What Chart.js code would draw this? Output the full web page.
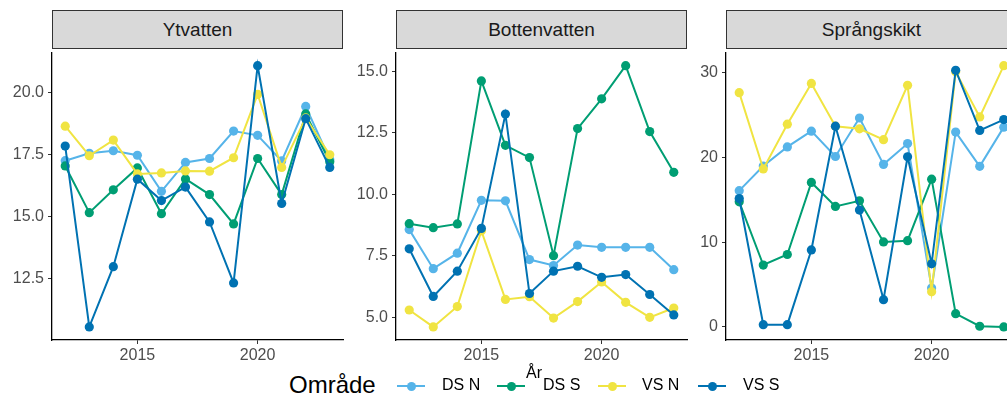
<!DOCTYPE html>
<html>
<head>
<meta charset="utf-8">
<script src="https://cdn.jsdelivr.net/npm/chart.js@4.4.1/dist/chart.umd.min.js"></script>
<style>
body { margin:0; width:1007px; height:403px; overflow:hidden; background:#fff; position:relative; font-family:"Liberation Sans", Arial, sans-serif; }
.strip { position:absolute; top:10px; height:39px; background:#D9D9D9; border:1px solid #333; box-sizing:border-box; text-align:center; font-size:19px; line-height:37px; color:#1A1A1A; }
canvas { position:absolute; }
.lg { position:absolute; white-space:nowrap; color:#000; }
</style>
</head>
<body>
<div id="strips"></div>
<canvas id="c0"></canvas>
<canvas id="c1"></canvas>
<canvas id="c2"></canvas>
<div id="legend"></div>
<script>
// data
var years = [2012, 2013, 2014, 2015, 2016, 2017, 2018, 2019, 2020, 2021, 2022, 2023];
var serier = ['DS N', 'DS S', 'VS N', 'VS S'];
var paneler = ['Ytvatten', 'Bottenvatten', 'Språngskikt'];

var ytDSN = [17.25, 17.55, 17.65, 17.47, 16.02, 17.18, 17.34, 18.44, 18.27, 17.24, 19.43, 17.3];
var ytDSS = [17.04, 15.16, 16.08, 16.96, 15.12, 16.52, 15.89, 14.71, 17.34, 15.89, 19.13, 17.21];
var ytVSN = [18.64, 17.45, 18.08, 16.72, 16.76, 16.84, 16.83, 17.37, 19.92, 16.98, 18.97, 17.49];
var ytVSS = [17.84, 10.57, 12.99, 16.51, 15.65, 16.19, 14.79, 12.34, 21.07, 15.53, 18.94, 16.98];

var btDSN = [8.56, 6.97, 7.60, 9.75, 9.73, 7.34, 7.10, 7.93, 7.84, 7.84, 7.84, 6.93];
var btDSS = [8.80, 8.64, 8.79, 14.61, 11.99, 11.49, 7.50, 12.67, 13.88, 15.23, 12.55, 10.89];
var btVSN = [5.29, 4.60, 5.43, 8.51, 5.72, 5.83, 4.96, 5.63, 6.43, 5.60, 4.99, 5.37];
var btVSS = [7.78, 5.84, 6.87, 8.61, 13.26, 5.96, 6.87, 7.07, 6.62, 6.73, 5.92, 5.09];

var spDSN = [16.07, 18.98, 21.23, 23.09, 20.10, 24.64, 19.17, 21.62, 4.58, 22.98, 18.94, 23.56];
var spDSS = [14.75, 7.30, 8.54, 17.04, 14.21, 14.87, 10.02, 10.17, 17.43, 1.56, 0.08, 0.0];
var spVSN = [27.63, 18.63, 23.91, 28.72, 23.67, 23.36, 22.08, 28.49, 4.16, 30.08, 24.76, 30.81];
var spVSS = [15.14, 0.27, 0.27, 9.08, 23.67, 13.78, 3.22, 20.07, 7.45, 30.27, 23.17, 24.45];

var ytTicks = [12.5, 15.0, 17.5, 20.0];
var btTicks = [5.0, 7.5, 10.0, 12.5, 15.0];
var spTicks = [0, 10, 20, 30];
var xTicks = [2015, 2020];

var panelData = [
    [ytDSN, ytDSS, ytVSN, ytVSS],
    [btDSN, btDSS, btVSN, btVSS],
    [spDSN, spDSS, spVSN, spVSS]
];
var panelTicks = [ytTicks, btTicks, spTicks];
var decimaler = [1, 1, 0];

var farger = ['#56B4E9', '#009E73', '#F0E442', '#0072B2'];

// layout
var plotLeft = [52, 396, 726];
var plotW = 291;
var plotTop = 49;
var plotH = 291;
var yAxW = 50;
var xAxH = 30;
var padTop = 10;
var padRight = 10;

// strips
var strips = document.getElementById('strips');
for (var p = 0; p < paneler.length; p++) {
    var s = document.createElement('div');
    s.className = 'strip';
    s.style.left = plotLeft[p] + 'px';
    s.style.width = plotW + 'px';
    s.textContent = paneler[p];
    strips.appendChild(s);
}

function expand(arrs) {
    var all = [].concat.apply([], arrs);
    var mn = Math.min.apply(null, all);
    var mx = Math.max.apply(null, all);
    var d = (mx - mn) * 0.05;
    return [mn - d, mx + d];
}

var xr = [years[0] - (years[years.length - 1] - years[0]) * 0.05, years[years.length - 1] + (years[years.length - 1] - years[0]) * 0.05];

function ritaPanel(p) {
    var canvas = document.getElementById('c' + p);
    var w = yAxW + plotW + padRight;
    var h = padTop + plotH + xAxH;
    canvas.width = w;
    canvas.height = h;
    canvas.style.left = (plotLeft[p] - yAxW) + 'px';
    canvas.style.top = (plotTop - padTop) + 'px';
    canvas.style.width = w + 'px';
    canvas.style.height = h + 'px';

    var yr = expand(panelData[p]);
    var ticks = panelTicks[p];
    var dec = decimaler[p];

    var datasets = [];
    for (var i = 0; i < serier.length; i++) {
        datasets.push({
            label: serier[i],
            data: years.map(function (y, k) { return { x: y, y: panelData[p][i][k] }; }),
            borderColor: farger[i],
            backgroundColor: farger[i],
            pointBackgroundColor: farger[i],
            pointBorderWidth: 0,
            pointRadius: 4.6,
            borderWidth: 2,
            tension: 0,
            order: serier.length - i
        });
    }

    new Chart(canvas, {
        type: 'line',
        data: { datasets: datasets },
        options: {
            responsive: false,
            animation: false,
            events: [],
            layout: { padding: { top: padTop, right: padRight, left: 0, bottom: 0 } },
            plugins: { legend: { display: false }, tooltip: { enabled: false } },
            scales: {
                x: {
                    type: 'linear',
                    min: xr[0],
                    max: xr[1],
                    afterBuildTicks: function (sc) { sc.ticks = xTicks.map(function (v) { return { value: v }; }); },
                    afterFit: function (sc) { sc.height = xAxH; },
                    grid: { drawOnChartArea: false, drawTicks: true, tickLength: 4, color: '#333333' },
                    border: { display: true, color: '#000000', width: 1.3 },
                    ticks: {
                        color: '#4D4D4D',
                        font: { family: 'Liberation Sans', size: 16 },
                        padding: 2,
                        maxRotation: 0,
                        callback: function (v) { return String(v); }
                    }
                },
                y: {
                    type: 'linear',
                    min: yr[0],
                    max: yr[1],
                    afterBuildTicks: function (sc) { sc.ticks = ticks.map(function (v) { return { value: v }; }); },
                    afterFit: function (sc) { sc.width = yAxW; },
                    grid: { drawOnChartArea: false, drawTicks: true, tickLength: 4, color: '#333333' },
                    border: { display: true, color: '#000000', width: 1.3 },
                    ticks: {
                        color: '#4D4D4D',
                        font: { family: 'Liberation Sans', size: 16 },
                        padding: 4,
                        callback: function (v) { return v.toFixed(dec); }
                    }
                }
            }
        }
    });
}

for (var p = 0; p < paneler.length; p++) {
    ritaPanel(p);
}

// x-axis title and legend
var legend = document.getElementById('legend');
function lgText(txt, left, top, size) {
    var d = document.createElement('div');
    d.className = 'lg';
    d.style.left = left + 'px';
    d.style.top = top + 'px';
    d.style.fontSize = size + 'px';
    d.textContent = txt;
    legend.appendChild(d);
}
lgText('Område', 289, 371, 24);
lgText('År', 526, 364, 16);

var keyLeft = [397, 497, 598, 698];
var textLeft = [442, 543, 642, 743];
var keyY = 386;
for (var i = 0; i < serier.length; i++) {
    var line = document.createElement('div');
    line.style.position = 'absolute';
    line.style.left = keyLeft[i] + 'px';
    line.style.top = (keyY - 1) + 'px';
    line.style.width = '28px';
    line.style.height = '2px';
    line.style.background = farger[i];
    legend.appendChild(line);
    var dot = document.createElement('div');
    dot.style.position = 'absolute';
    dot.style.left = (keyLeft[i] + 14 - 4.5) + 'px';
    dot.style.top = (keyY - 4.5) + 'px';
    dot.style.width = '9px';
    dot.style.height = '9px';
    dot.style.borderRadius = '50%';
    dot.style.background = farger[i];
    legend.appendChild(dot);
    lgText(serier[i], textLeft[i], keyY - 10, 16);
}
</script>
</body>
</html>
